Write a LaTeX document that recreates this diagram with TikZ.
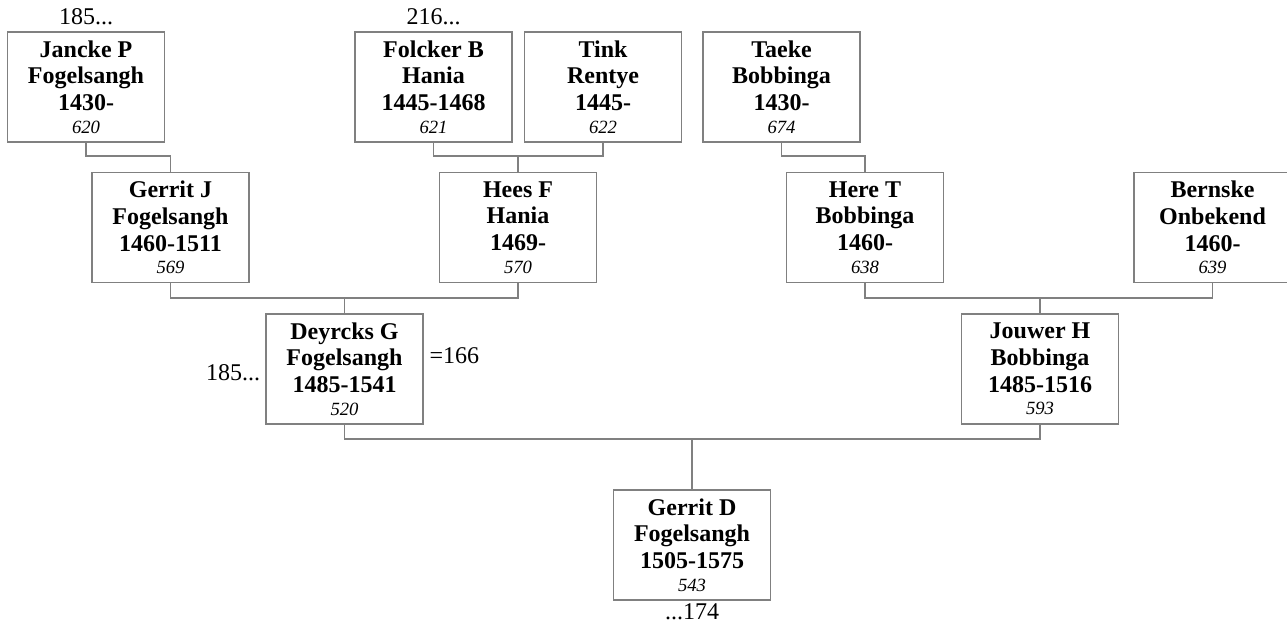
\documentclass[tikz,border=0pt]{standalone}
\usepackage{fontspec}
\setmainfont{Liberation Serif}
\usetikzlibrary{positioning}

\begin{document}
\begin{tikzpicture}[
    x=0.75pt, y=-0.75pt,
    person/.style={draw=gray, line width=1pt, minimum width=117.75pt, minimum height=82.5pt, inner sep=0pt, outer sep=0pt, align=center, font=\fontsize{18}{20}\selectfont\bfseries},
    num/.style={font=\normalfont\itshape\fontsize{14}{17}\selectfont},
    link/.style={draw=gray, line width=1pt},
    note/.style={inner sep=0pt, outer sep=0pt, font=\fontsize{18}{20}\selectfont},
    node distance=5pt
]
\clip (0,0) rectangle (1287,628);

% grandparents' parents
\node[person] (jancke) at (86,87) {Jancke P\\Fogelsangh\\1430-\\[-3pt]{\normalfont\itshape\fontsize{14}{17}\selectfont 620}};
\node[person] (folcker) at (433.5,87) {Folcker B\\Hania\\1445-1468\\[-3pt]{\normalfont\itshape\fontsize{14}{17}\selectfont 621}};
\node[person] (tink) at (603,87) {Tink\\Rentye\\1445-\\[-3pt]{\normalfont\itshape\fontsize{14}{17}\selectfont 622}};
\node[person] (taeke) at (781.5,87) {Taeke\\Bobbinga\\1430-\\[-3pt]{\normalfont\itshape\fontsize{14}{17}\selectfont 674}};

% grandparents
\node[person] (gerritj) at (170.5,227.5) {Gerrit J\\Fogelsangh\\1460-1511\\[-3pt]{\normalfont\itshape\fontsize{14}{17}\selectfont 569}};
\node[person] (hees) at (518,227.5) {Hees F\\Hania\\1469-\\[-3pt]{\normalfont\itshape\fontsize{14}{17}\selectfont 570}};
\node[person] (heret) at (865,227.5) {Here T\\Bobbinga\\1460-\\[-3pt]{\normalfont\itshape\fontsize{14}{17}\selectfont 638}};
\node[person] (bernske) at (1212.5,227.5) {Bernske\\Onbekend\\1460-\\[-3pt]{\normalfont\itshape\fontsize{14}{17}\selectfont 639}};

% parents
\node[person] (deyrcks) at (344.5,369) {Deyrcks G\\Fogelsangh\\1485-1541\\[-3pt]{\normalfont\itshape\fontsize{14}{17}\selectfont 520}};
\node[person] (jouwer) at (1040,369) {Jouwer H\\Bobbinga\\1485-1516\\[-3pt]{\normalfont\itshape\fontsize{14}{17}\selectfont 593}};

% root
\node[person] (gerritd) at (692,545) {Gerrit D\\Fogelsangh\\1505-1575\\[-3pt]{\normalfont\itshape\fontsize{14}{17}\selectfont 543}};

% references
\node[note, above=5pt of jancke] (janckeref) {185...};
\node[note, above=5pt of folcker] (folckerref) {216...};
\node[note, left=4.5pt of deyrcks, yshift=-2.5pt] (deyrcksref) {185...};
\node[note, right=5pt of deyrcks, yshift=10pt] (deyrckseq) {=166};
\node[note, below=3pt of gerritd] (gerritdref) {...174};

% lines
\draw[link] (jancke.south) -- ++(0,14) -| (gerritj.north);
\draw[link] (folcker.south) -- ++(0,14) -| (tink.south);
\draw[link] (hees.north) -- ++(0,-17);
\draw[link] (taeke.south) -- ++(0,14) -| (heret.north);
\draw[link] (gerritj.south) -- ++(0,15.5) -| (hees.south);
\draw[link] (deyrcks.north) -- ++(0,-16);
\draw[link] (heret.south) -- ++(0,15.5) -| (bernske.south);
\draw[link] (jouwer.north) -- ++(0,-16);
\draw[link] (deyrcks.south) -- ++(0,15) -| (jouwer.south);
\draw[link] (gerritd.north) -- ++(0,-52);
\end{tikzpicture}
\end{document}
